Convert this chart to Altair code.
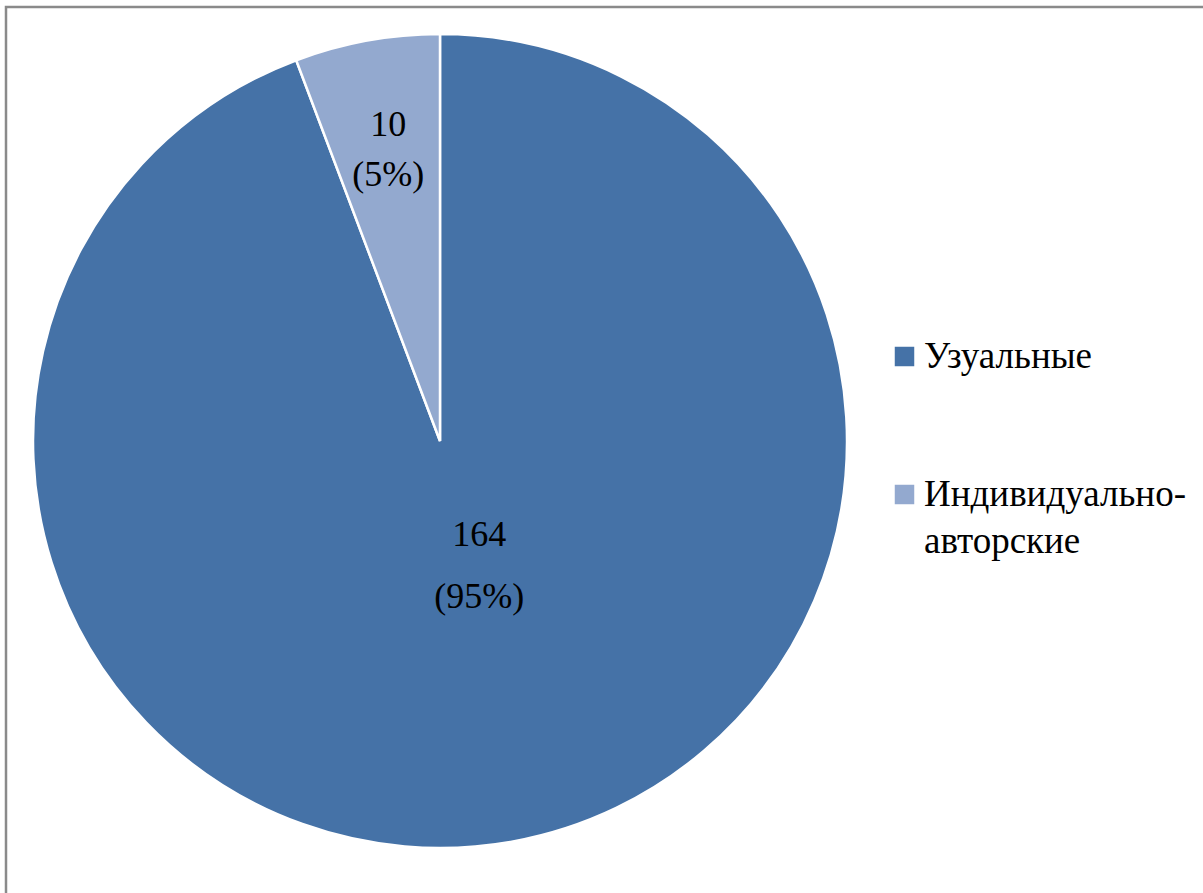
import altair as alt
import pandas as pd

categories = ["Узуальные", "Индивидуально-авторские"]
counts = [164, 10]
pct_labels = ["95%", "5%"]
colors = ["#4572A7", "#93A9CF"]

df = pd.DataFrame({
    "cat": categories,
    "count": counts,
    "pct": pct_labels,
    "ord": list(range(len(categories))),
})

FONT = "Times New Roman"

color = alt.Color(
    "cat:N",
    scale=alt.Scale(domain=categories, range=colors),
    sort=categories,
    legend=alt.Legend(
        title=None,
        orient="none",
        legendX=886,
        legendY=338,
        symbolType="square",
        symbolSize=380,
        symbolStrokeWidth=0,
        labelFont=FONT,
        labelFontSize=37,
        labelColor="black",
        labelOffset=1,
        labelLimit=400,
        rowPadding=100,
        labelBaseline="middle",
        labelExpr="datum.label == 'Индивидуально-авторские' ? ['Индивидуально-', 'авторские'] : datum.label",
    ),
)

base = alt.Chart(df)

border = alt.Chart(alt.Data(values=[{}])).mark_rect(
    fill=None, stroke="#8a8a8a", strokeWidth=2.5
).encode(
    x=alt.value(6), y=alt.value(7), x2=alt.value(1260), y2=alt.value(960)
)

pie = base.mark_arc(outerRadius=407, stroke="white", strokeWidth=2.5).encode(
    theta=alt.Theta("count:Q", stack=True),
    color=color,
    order=alt.Order("ord:Q"),
)

def label_layer(cat, radius, line_height, dx=0):
    return base.transform_joinaggregate(
        total="sum(count)"
    ).transform_window(
        cum="sum(count)", sort=[alt.SortField("ord")]
    ).transform_calculate(
        mid="(datum.cum - datum.count / 2) / datum.total * 2 * PI",
        label="datum.count + '\\n(' + datum.pct + ')'",
    ).transform_filter(
        alt.datum.cat == cat
    ).mark_text(
        radius=radius, font=FONT, fontSize=36, color="black",
        lineBreak="\n", lineHeight=line_height, baseline="middle", align="center", dx=dx,
    ).encode(
        theta=alt.Theta("mid:Q", scale=None),
        text="label:N",
    )

labels_big = label_layer("Узуальные", 96, 62, dx=22)
labels_small = label_layer("Индивидуально-авторские", 321, 50, dx=6)

chart = alt.layer(border, pie, labels_big, labels_small).properties(
    width=880,
    height=882,
    padding={"left": 0, "top": 0, "right": 323, "bottom": 11},
    autosize=alt.AutoSizeParams(type="none"),
    background="white",
).configure(
    style={"guide-label": {"lineHeight": 47}}
).configure_view(stroke=None)

chart.save("out.html", embed_options={"renderer": "svg", "actions": False})
